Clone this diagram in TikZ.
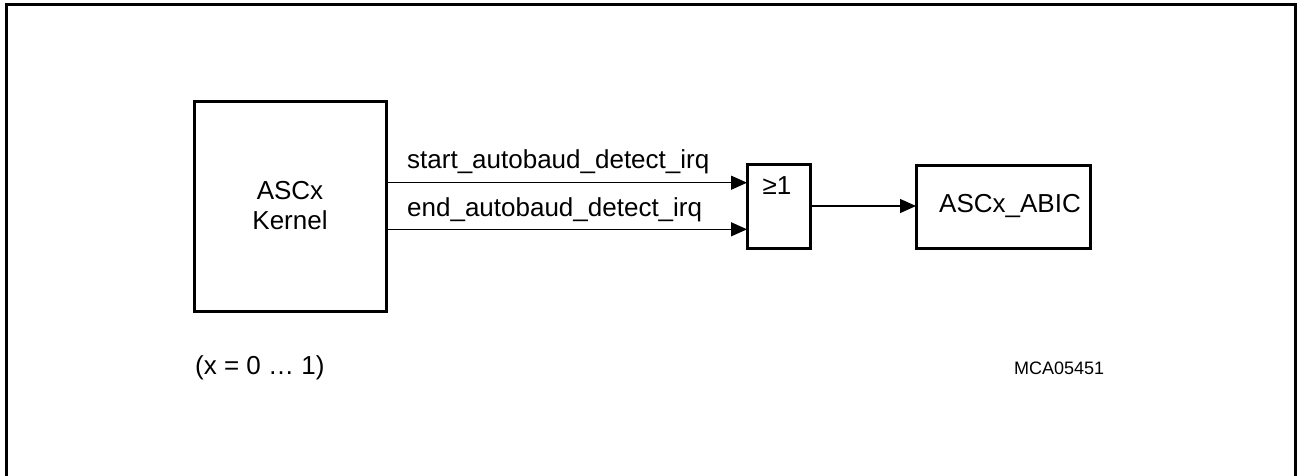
\documentclass[tikz,border=0pt]{standalone}
\usepackage{fontspec}
\setmainfont{Liberation Sans}
\usetikzlibrary{arrows.meta}
\begin{document}
\begin{tikzpicture}[x=1pt,y=-1pt,
  thickbox/.style={draw,line width=3pt,inner sep=0pt},
  sig/.style={line width=1.3pt,-{Triangle[length=16pt,width=14pt]}},
  lbl/.style={font=\fontsize{26}{30}\selectfont,inner sep=0pt},
  small/.style={font=\fontsize{18}{22}\selectfont,inner sep=0pt}]
\useasboundingbox (0,0) rectangle (1297,475);
\begin{scope}
\clip (0,0) rectangle (1297,475);
\draw[line width=3pt] (6,4) rectangle (1295.5,490);
\end{scope}
% kernel box
\draw[line width=3pt] (194,101) rectangle (386,311);
\node[lbl,align=center] (kernel) at (290,206) {ASCx\\Kernel};
\coordinate (k1) at (386,182.7);
\coordinate (k2) at (386,229.3);
% OR gate
\draw[line width=3pt] (747,164) rectangle (810,248);
\coordinate (or) at (778.5,206);
\coordinate (g1) at (747,182.7);
\coordinate (g2) at (747,229.3);
\coordinate (go) at (810,206);
\node[lbl] (ge) at (777,186) {≥1};
% ABIC box
\draw[line width=3pt] (916,165) rectangle (1090,248);
\coordinate (ab) at (916,206);
\node[lbl] (abic) at (1010,206) {ASCx\_ABIC};
% connectors
\draw[sig] (k1) -- (g1);
\draw[sig] (k2) -- (g2);
\draw[sig] (go) -- (ab);
\node[lbl,anchor=west] (s1) at (407,162) {start\_autobaud\_detect\_irq};
\node[lbl,anchor=west] (s2) at (407,210) {end\_autobaud\_detect\_irq};
\node[lbl,anchor=west] (xr) at (195,368) {(x = 0 … 1)};
\node[small,anchor=west] (mca) at (1014,368) {MCA05451};
\end{tikzpicture}
\end{document}
